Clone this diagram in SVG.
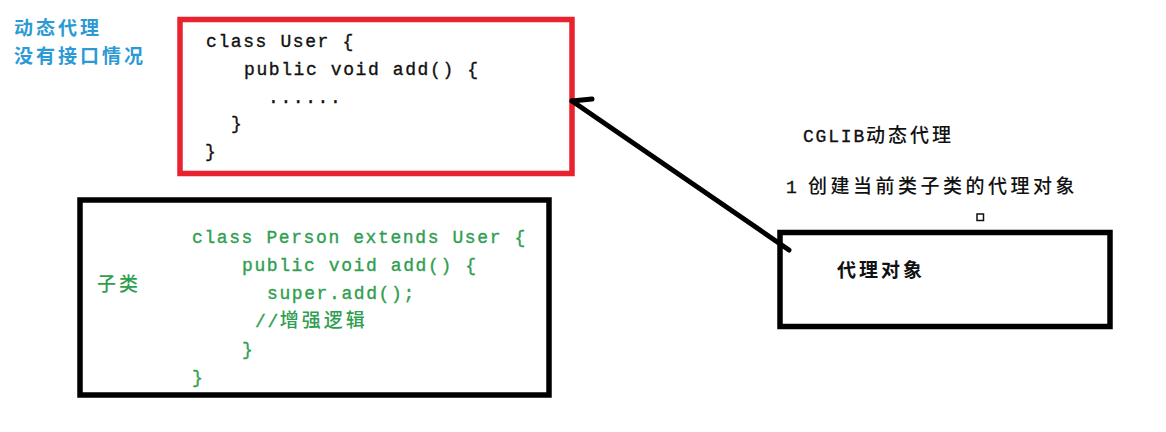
<svg xmlns="http://www.w3.org/2000/svg" width="1166" height="432" viewBox="0 0 1166 432">
  <style>
    .code { font-family: "Liberation Mono", "Noto Sans CJK SC", monospace; font-size: 18px; letter-spacing: 1.6px; stroke-width: 0.35px; }
    .cjk { font-family: "Noto Sans CJK SC", "Liberation Sans", sans-serif; font-size: 19px; letter-spacing: 3px; }
    .blue { fill: #2c9ad4; font-weight: bold; }
    .black { fill: #111111; }
    .code.black { stroke: #111111; }
    .green { fill: #2f9e4f; }
    .code.green { stroke: #2f9e4f; }
    .mid { font-weight: 500; }
    .box { fill: none; stroke-width: 5.5; }
  </style>

  <rect width="1166" height="432" fill="#ffffff"/>

  <!-- heading -->
  <g id="title">
    <text class="cjk blue" x="14" y="35">动态代理</text>
    <text class="cjk blue" x="14" y="63">没有接口情况</text>
  </g>

  <!-- base class -->
  <g id="user-class">
    <rect class="box" x="180" y="19.5" width="392" height="154" stroke="#e8222e"/>
    <text class="code black" x="206" y="47">class User {</text>
    <text class="code black" x="244" y="75">public void add() {</text>
    <text class="code black" x="268" y="103">......</text>
    <text class="code black" x="231" y="129">}</text>
    <text class="code black" x="205" y="157">}</text>
  </g>

  <!-- subclass -->
  <g id="person-class">
    <rect class="box" x="80" y="200" width="469" height="195" stroke="#000000"/>
    <text class="cjk green mid" x="97" y="291">子类</text>
    <text class="code green" x="192" y="243">class Person extends User {</text>
    <text class="code green" x="242" y="271">public void add() {</text>
    <text class="code green" x="267" y="299">super.add();</text>
    <text class="code green" x="255" y="327">//<tspan class="cjk mid" style="font-family:'Noto Sans CJK SC',sans-serif;stroke:none">增强逻辑</tspan></text>
    <text class="code green" x="242" y="355">}</text>
    <text class="code green" x="192" y="383">}</text>
  </g>

  <!-- notes -->
  <g id="cglib-notes">
    <text class="code black" x="803" y="142" style="letter-spacing:1.8px">CGLIB<tspan class="cjk mid" style="font-family:'Noto Sans CJK SC',sans-serif;stroke:none">动态代理</tspan></text>
    <text class="code black" x="786" y="193">1<tspan x="808" class="cjk mid" style="font-family:'Noto Sans CJK SC',sans-serif;stroke:none;letter-spacing:3.5px">创建当前类子类的代理对象</tspan></text>
    <rect x="977" y="214" width="6.5" height="6.5" fill="none" stroke="#111111" stroke-width="1.5"/>
  </g>

  <!-- proxy object -->
  <g id="proxy-object">
    <rect class="box" x="780" y="232.5" width="330" height="94" stroke="#000000"/>
    <text class="cjk black" x="837" y="277" style="font-weight:bold">代理对象</text>
  </g>

  <!-- connectors -->
  <g id="connectors" stroke="#000000" stroke-width="5" stroke-linecap="round" fill="none">
    <line x1="789" y1="250" x2="572" y2="101"/>
    <line x1="572" y1="101" x2="592" y2="99"/>
  </g>
</svg>
